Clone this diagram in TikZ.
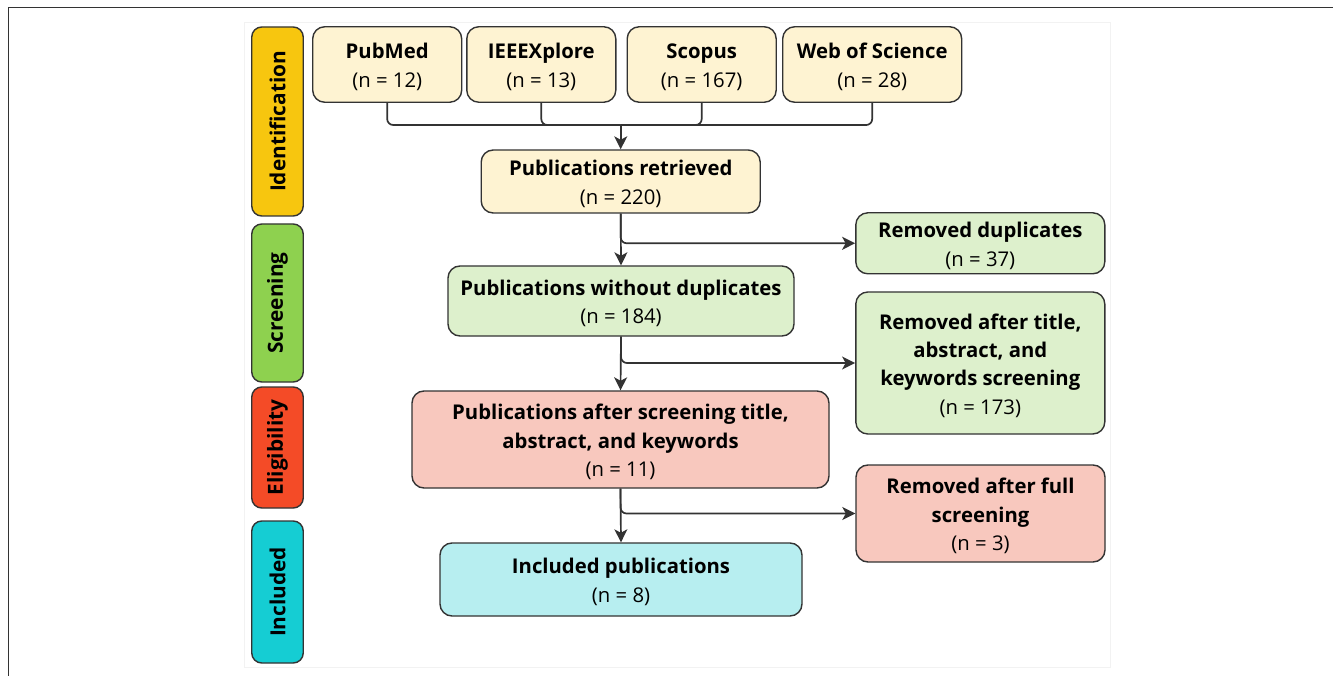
\documentclass[tikz,border=0pt]{standalone}
\usepackage{fontspec}
\setmainfont{Open Sans}
\usetikzlibrary{arrows.meta}
\definecolor{lineC}{HTML}{333333}
\definecolor{idY}{HTML}{F7C60F}
\definecolor{scG}{HTML}{8ED14F}
\definecolor{elR}{HTML}{F44B27}
\definecolor{inC}{HTML}{15CDD3}
\definecolor{boxY}{HTML}{FEF3D2}
\definecolor{boxG}{HTML}{DDF0CC}
\definecolor{boxR}{HTML}{F8C8BE}
\definecolor{boxC}{HTML}{B7EEF0}
\newcommand\topfix{\rule{0pt}{20.5pt}}
\tikzset{
  box/.style={draw=lineC, line width=1.4pt, rounded corners=12pt, inner sep=0pt,
    align=center, font=\fontsize{20.3}{28.3}\selectfont},
  phase/.style={draw=lineC, line width=1.4pt, rounded corners=10pt, inner sep=0pt,
    rotate=90, minimum height=51.5pt, font=\fontsize{20.8}{24}\selectfont\bfseries},
  conn/.style={draw=lineC, line width=1.7pt, rounded corners=6pt},
  arr/.style={conn, -{Stealth[length=13pt,width=13pt,inset=3.5pt]}}
}
\begin{document}
\begin{tikzpicture}[x=1pt,y=-1pt]
\useasboundingbox (0,0) rectangle (1333,676);
% frame
\draw[lineC, line width=1.5pt] (8.3,680) -- (8.3,7.3) -- (1340,7.3);
\draw[black!5, line width=0.8pt] (244,22) rectangle (1110,667);
% phases
\node[phase, fill=idY, minimum width=189pt] (ph1) at (277.5,121.5) {Identification};
\node[phase, fill=scG, minimum width=158pt] (ph2) at (277.5,303) {Screening};
\node[phase, fill=elR, minimum width=121pt] (ph3) at (277.5,447.5) {Eligibility};
\node[phase, fill=inC, minimum width=142pt] (ph4) at (277.5,592) {Included};
% sources
\node[box, fill=boxY, minimum width=149pt, minimum height=75.5pt] (pubmed) at (387.2,64.5) {\topfix\textbf{PubMed}\\(n = 12)};
\node[box, fill=boxY, minimum width=149pt, minimum height=75.5pt] (ieee) at (541.3,64.5) {\topfix\textbf{IEEEXplore}\\(n = 13)};
\node[box, fill=boxY, minimum width=149pt, minimum height=75.5pt] (scopus) at (701.7,64.5) {\topfix\textbf{Scopus}\\(n = 167)};
\node[box, fill=boxY, minimum width=179pt, minimum height=75.5pt] (wos) at (872.2,64.5) {\topfix\textbf{Web of Science}\\(n = 28)};
% main flow
\node[box, fill=boxY, minimum width=279pt, minimum height=63pt] (pr) at (620.7,181.5) {\topfix\textbf{Publications retrieved}\\(n = 220)};
\node[box, fill=boxG, minimum width=346pt, minimum height=70pt] (pwd) at (621,301) {\topfix\textbf{Publications without duplicates}\\(n = 184)};
\node[box, fill=boxR, minimum width=417pt, minimum height=97pt] (pas) at (620.5,439.5) {\topfix\textbf{Publications after screening title,}\\\textbf{abstract, and keywords}\\(n = 11)};
\node[box, fill=boxC, minimum width=362pt, minimum height=73pt] (inc) at (621,579.5) {\topfix\textbf{Included publications}\\(n = 8)};
% removed
\node[box, fill=boxG, minimum width=249pt, minimum height=61pt] (rd) at (980.3,243.3) {\topfix\textbf{Removed duplicates}\\(n = 37)};
\node[box, fill=boxG, minimum width=249pt, minimum height=142pt] (rat) at (980.3,363) {\topfix\textbf{Removed after title,}\\\textbf{abstract, and}\\\textbf{keywords screening}\\(n = 173)};
\node[box, fill=boxR, minimum width=249pt, minimum height=97pt] (rfs) at (980.5,513.5) {\topfix\textbf{Removed after full}\\\textbf{screening}\\(n = 3)};
% connectors
\coordinate (j) at (620.7,125);
\draw[conn] (pubmed.south) |- (j);
\draw[conn] (ieee.south) |- (j);
\draw[conn] (scopus.south) |- (j);
\draw[conn] (wos.south) |- (j);
\draw[arr] (j) -- (pr.north);
\draw[arr] (pr.south) -- (pwd.north);
\draw[arr] (pr.south) |- (rd.west);
\draw[arr] (pwd.south) -- (pas.north);
\draw[arr] (pwd.south) |- (rat.west);
\draw[arr] (pas.south) -- (inc.north);
\draw[arr] (pas.south) |- (rfs.west);
\end{tikzpicture}
\end{document}
